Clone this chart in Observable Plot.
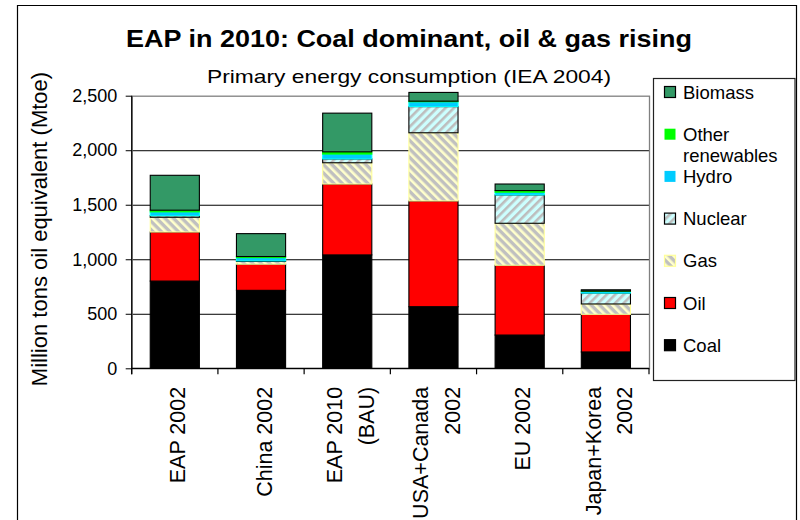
<!DOCTYPE html>
<html>
<head>
<meta charset="utf-8">
<script src="https://cdn.jsdelivr.net/npm/d3@7"></script>
<script src="https://cdn.jsdelivr.net/npm/@observablehq/plot@0.6"></script>
<style>
  html, body { margin: 0; padding: 0; background: #fff; }
  #chart { width: 800px; height: 520px; overflow: hidden; }
</style>
</head>
<body>
<div id="chart"></div>
<script>
// Primary energy consumption by source, Mtoe (IEA 2004)
const categories = ["EAP 2002", "China 2002", "EAP 2010\n(BAU)", "USA+Canada\n2002", "EU 2002", "Japan+Korea\n2002"];
const seriesNames = ["Coal", "Oil", "Gas", "Nuclear", "Hydro", "Other renewables", "Biomass"];
const coal            = [800, 715, 1040, 565, 305, 150];
const oil             = [450, 240,  650, 970, 640, 345];
const gas             = [135,  25,  195, 625, 385,  95];
const nuclear         = [ 15,   5,   35, 240, 260, 100];
const hydro           = [ 35,  30,   45,  45,  25,  15];
const otherRenewables = [ 15,  10,   20,   5,  15,   3];
const biomass         = [320, 210,  355,  80,  60,  12];
const yTicks = [0, 500, 1000, 1500, 2000, 2500];

const FONT = "'Liberation Sans', Arial, Helvetica, sans-serif";
const seriesValues = [coal, oil, gas, nuclear, hydro, otherRenewables, biomass];
const fills = {
  "Coal": "#000000",
  "Oil": "#FF0000",
  "Gas": "url(#hatch-gas)",
  "Nuclear": "url(#hatch-nuclear)",
  "Hydro": "#00CCFF",
  "Other renewables": "#00FF00",
  "Biomass": "#339966"
};
const strokes = {
  "Coal": "#000000",
  "Oil": "#000000",
  "Gas": "#FFFF99",
  "Nuclear": "#000000",
  "Hydro": "#00FFFF",
  "Other renewables": "#00FF00",
  "Biomass": "#000000"
};

const rows = categories.flatMap((category, i) =>
  seriesNames.map((series, j) => ({category, series, value: seriesValues[j][i]}))
);

const plot = Plot.plot({
  width: 800,
  height: 520,
  marginLeft: 131.7,
  marginRight: 151,
  marginTop: 95.7,
  marginBottom: 151.7,
  style: {fontFamily: FONT, fontSize: "18px", background: "transparent", color: "#000", overflow: "visible"},
  x: {domain: categories, paddingInner: 0.43, paddingOuter: 0.215, round: false, axis: null},
  y: {domain: [0, 2500]},
  color: {type: "identity"},
  marks: [
    Plot.ruleY(yTicks.filter(v => v > 0 && v < 2500), {stroke: "#000", strokeWidth: 1}),
    Plot.frame({stroke: "#808080", strokeWidth: 1.3}),
    Plot.barY(rows, Plot.stackY({
      x: "category",
      y: "value",
      z: "series",
      order: seriesNames,
      fill: d => fills[d.series],
      stroke: d => strokes[d.series],
      strokeWidth: 1.1
    })),
    Plot.axisY({
      ticks: yTicks,
      tickFormat: d3.format(","),
      tickSize: 6,
      tickPadding: 9,
      fontSize: 18,
      label: null,
      stroke: "#000"
    }),
    Plot.text(categories, {
      x: d => d,
      frameAnchor: "bottom",
      text: d => d,
      rotate: -90,
      textAnchor: "end",
      lineAnchor: "middle",
      dy: 18,
      fontSize: 21.5,
      lineHeight: 1.47,
      fill: "#000"
    })
  ]
});

document.getElementById("chart").appendChild(plot);
const svg = d3.select(plot.tagName.toLowerCase() === "svg" ? plot : plot.querySelector("svg"));

// hatch fills for gas and nuclear
const defs = svg.insert("defs", ":first-child");
function hatch(id, bg, fg, angle, w) {
  const p = defs.append("pattern")
    .attr("id", id)
    .attr("patternUnits", "userSpaceOnUse")
    .attr("width", 6).attr("height", 6)
    .attr("patternTransform", `rotate(${angle})`);
  p.append("rect").attr("width", 6).attr("height", 6).attr("fill", bg);
  p.append("rect").attr("width", w).attr("height", 6).attr("fill", fg);
}
hatch("hatch-gas", "#C0C0C0", "#FFFFCC", -45, 2.6);
hatch("hatch-nuclear", "#CCFFFF", "#BDBDBD", 45, 2.6);

// axis lines and category boundary ticks
const xs = plot.scale("x");
const ys = plot.scale("y");
const bw = xs.bandwidth;
const step = xs.step != null ? xs.step : bw / (1 - 0.43);
const bounds = categories.map(c => xs.apply(c) - (step - bw) / 2);
bounds.push(bounds[bounds.length - 1] + step);
const y0 = ys.apply(0), yTop = ys.apply(2500);
const axes = svg.append("g").attr("stroke", "#000").attr("stroke-width", 1.2);
axes.append("line").attr("x1", bounds[0]).attr("x2", bounds[0]).attr("y1", yTop).attr("y2", y0 + 6);
axes.append("line").attr("x1", bounds[0]).attr("x2", bounds[bounds.length - 1]).attr("y1", y0).attr("y2", y0);
axes.selectAll(".bt").data(bounds).join("line")
  .attr("x1", d => d).attr("x2", d => d).attr("y1", y0).attr("y2", y0 + 6);

// outer chart border
svg.append("path")
  .attr("d", "M17.5,540 V5.5 H796.5 V540")
  .attr("fill", "none").attr("stroke", "#000").attr("stroke-width", 1.2);

// title and subtitle
svg.append("text")
  .attr("x", 409).attr("y", 46.5)
  .attr("text-anchor", "middle")
  .attr("font-size", 24).attr("font-weight", "bold")
  .attr("textLength", 566).attr("lengthAdjust", "spacingAndGlyphs")
  .attr("fill", "#000")
  .text("EAP in 2010: Coal dominant, oil & gas rising");
svg.append("text")
  .attr("x", 409).attr("y", 83)
  .attr("text-anchor", "middle")
  .attr("font-size", 19)
  .attr("textLength", 404).attr("lengthAdjust", "spacingAndGlyphs")
  .attr("fill", "#000")
  .text("Primary energy consumption (IEA 2004)");

// y-axis title
svg.append("text")
  .attr("transform", "translate(46.5,229) rotate(-90)")
  .attr("text-anchor", "middle")
  .attr("font-size", 22)
  .attr("fill", "#000")
  .text("Million tons oil equivalent (Mtoe)");

// legend
const legend = svg.append("g").attr("font-size", 18.5).attr("text-anchor", "start");
legend.append("rect")
  .attr("x", 653.5).attr("y", 78.5).attr("width", 141.5).attr("height", 302)
  .attr("fill", "#fff").attr("stroke", "#222").attr("stroke-width", 1.2);
const legendOrder = seriesNames.slice().reverse();
const legendLabels = {"Other renewables": ["Other", "renewables"]};
legendOrder.forEach((s, i) => {
  const cy = 92 + i * 42.2;
  const noOutline = s === "Hydro" || s === "Other renewables";
  legend.append("rect")
    .attr("x", 664.5).attr("y", cy - 5.5).attr("width", 11).attr("height", 11)
    .attr("fill", fills[s])
    .attr("stroke", noOutline ? "none" : strokes[s])
    .attr("stroke-width", 1.2);
  const lines = legendLabels[s] || [s];
  lines.forEach((line, k) => {
    legend.append("text")
      .attr("x", 683).attr("y", cy + 6.5 + k * 21.5)
      .attr("text-anchor", "start")
      .attr("fill", "#000")
      .text(line);
  });
});
</script>
</body>
</html>
